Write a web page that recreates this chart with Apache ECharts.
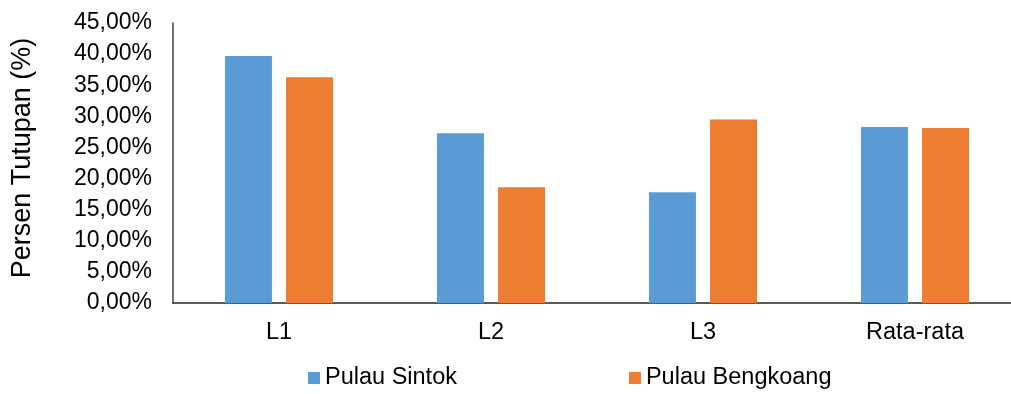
<!DOCTYPE html>
<html>
<head>
<meta charset="utf-8">
<script src="https://cdn.jsdelivr.net/npm/echarts@6/dist/echarts.min.js"></script>
<style>
  html, body { margin: 0; padding: 0; background: #ffffff; }
  #chart { width: 1011px; height: 394px; }
</style>
</head>
<body>
<div id="chart"></div>
<script>
// Persen tutupan per lokasi
const categories = ['L1', 'L2', 'L3', 'Rata-rata'];
const seriesNames = ['Pulau Sintok', 'Pulau Bengkoang'];
const sintok = [39.7, 27.3, 17.8, 28.27];
const bengkoang = [36.3, 18.6, 29.5, 28.13];
const yTicks = { min: 0, max: 45, interval: 5 };

const FONT = "'Liberation Sans', Arial, sans-serif";
const fmtPct = v => v.toFixed(2).replace('.', ',') + '%';

const chart = echarts.init(document.getElementById('chart'), null, { renderer: 'canvas' });

chart.setOption({
  animation: false,
  backgroundColor: '#ffffff',
  textStyle: { fontFamily: FONT, color: '#000000' },
  // the plot runs slightly past the right edge of the canvas
  grid: {
    left: 173, top: 23, width: 848, height: 280,
    containLabel: false,
    outerBoundsMode: 'none'
  },
  legend: {
    data: seriesNames,
    left: 308,
    top: 366,
    padding: 0,
    itemWidth: 12,
    itemHeight: 12,
    itemGap: 172,
    icon: 'rect',
    textStyle: { fontFamily: FONT, fontSize: 23.5, color: '#000000' }
  },
  xAxis: {
    type: 'category',
    data: categories,
    axisLine: { show: true, lineStyle: { color: '#262626', width: 1.5 } },
    axisTick: { show: false },
    axisLabel: { fontFamily: FONT, fontSize: 23.5, color: '#000000', margin: 18 },
    splitLine: { show: false }
  },
  yAxis: {
    type: 'value',
    min: yTicks.min,
    max: yTicks.max,
    interval: yTicks.interval,
    name: 'Persen Tutupan (%)',
    nameLocation: 'middle',
    nameGap: 137,
    nameTextStyle: { fontFamily: FONT, fontSize: 27, color: '#000000', padding: [0, 0, 0, 10] },
    axisLine: { show: true, lineStyle: { color: '#404040', width: 1.5 } },
    axisTick: { show: false },
    axisLabel: { fontFamily: FONT, fontSize: 23, color: '#000000', margin: 21, formatter: fmtPct },
    splitLine: { show: false }
  },
  series: [
    {
      name: seriesNames[0],
      type: 'bar',
      data: sintok,
      barWidth: 47,
      barGap: '30%',
      itemStyle: { color: '#5B9BD5' }
    },
    {
      name: seriesNames[1],
      type: 'bar',
      data: bengkoang,
      barWidth: 47,
      barGap: '30%',
      itemStyle: { color: '#ED7D31' }
    }
  ]
});
</script>
</body>
</html>
